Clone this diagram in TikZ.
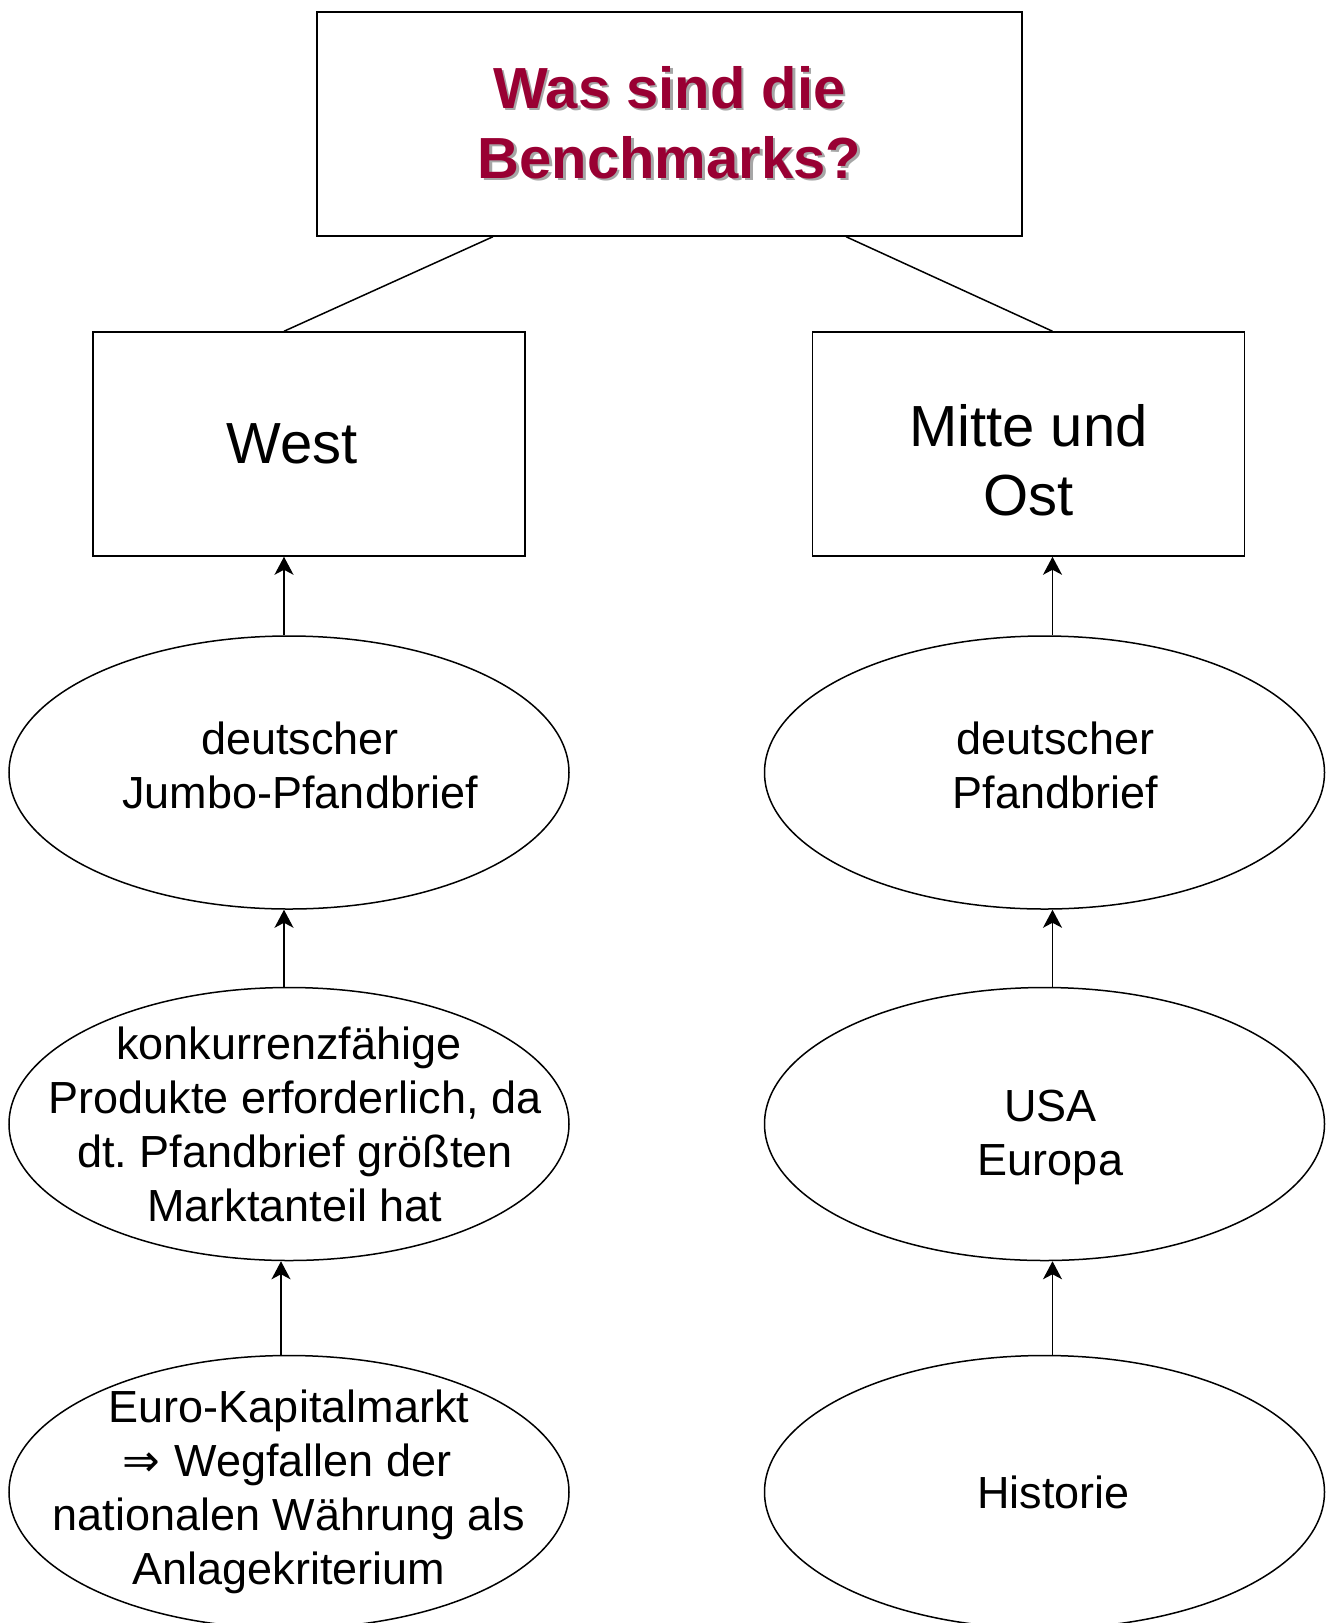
\documentclass[tikz,border=0pt]{standalone}
\usepackage{fontspec}
\setmainfont{Liberation Sans}
\newfontfamily\pfeilfont{DejaVu Sans}
\usetikzlibrary{shapes.geometric,arrows.meta,calc}
\definecolor{titelrot}{HTML}{990033}
\frenchspacing
\newcommand{\schatten}[1]{\rlap{\hspace{2.5pt}\raisebox{-2.5pt}{\color{black!35}#1}}#1}
\newcommand{\rueck}[1]{\rule{#1}{0pt}}
\tikzset{
  kasten/.style={draw, line width=1.5pt, inner sep=0pt, minimum width=432pt,
    minimum height=224pt, align=center, font=\fontsize{58}{69}\selectfont},
  titeltext/.style={text=titelrot, font=\bfseries\fontsize{58}{70}\selectfont},
  oval/.style={ellipse, draw, line width=1.5pt, inner xsep=-90pt, inner ysep=-40pt,
    minimum width=560pt, minimum height=273pt, align=center, font=\fontsize{45}{54}\selectfont},
  pfeil/.style={-{Stealth[length=18pt,width=19pt,inset=5pt]}, line width=1.5pt},
  linie/.style={line width=1.5pt},
}
\begin{document}
\begin{tikzpicture}[x=1pt,y=-1pt]
  \useasboundingbox (0,0) rectangle (1328,1623);
  % Titel
  \node[kasten, titeltext, minimum width=705pt] (titel) at (669.5,124)
    {\schatten{Was sind die}\\\schatten{Benchmarks?}};
  % zweite Ebene
  \node[kasten] (west) at (309,444) {West\rueck{34pt}};
  \node[kasten] (mitte) at (1028.5,444) {\rule{0pt}{74pt}Mitte und\\Ost};
  % linke Spalte
  \node[oval] (jumbo) at (289,772.5) {\rueck{22pt}deutscher\\\rueck{22pt}Jumbo-Pfandbrief\rule[-14pt]{0pt}{1pt}};
  \node[oval] (produkte) at (289,1124) {konkurrenzfähige\\\rueck{12pt}Produkte erforderlich, da\\\rueck{12pt}dt. Pfandbrief größten\\\rueck{12pt}Marktanteil hat};
  \node[oval] (euro) at (289,1492) {Euro-Kapitalmarkt\\{\pfeilfont ⇒}\hspace{14pt}Wegfallen der\rueck{4pt}\\nationalen Währung als\\Anlagekriterium};
  % rechte Spalte
  \node[oval] (pfandbrief) at (1044.5,772.5) {\rueck{22pt}deutscher\\\rueck{22pt}Pfandbrief\rule[-14pt]{0pt}{1pt}};
  \node[oval] (usa) at (1044.5,1124) {\rule{0pt}{58pt}\rueck{12pt}USA\\\rueck{12pt}Europa};
  \node[oval] (historie) at (1044.5,1492) {\rueck{18pt}Historie};
  % Pfeilfuesse
  \coordinate (l1) at ([xshift=-5pt]jumbo.north);
  \coordinate (l2) at ([xshift=-5pt]produkte.north);
  \coordinate (l3) at ([xshift=-8pt]euro.north);
  \coordinate (r1) at ([xshift=8pt]pfandbrief.north);
  \coordinate (r2) at ([xshift=8pt]usa.north);
  \coordinate (r3) at ([xshift=8pt]historie.north);
  % Verbindungen
  \draw[linie] ($(titel.south west)!0.25!(titel.south east)$) -- (l1 |- west.north);
  \draw[linie] ($(titel.south west)!0.75!(titel.south east)$) -- (r1 |- mitte.north);
  \draw[pfeil] (l1) -- (l1 |- west.south);
  \draw[pfeil] (l2) -- (l2 |- jumbo.south);
  \draw[pfeil] (l3) -- (l3 |- produkte.south);
  \draw[pfeil] (r1) -- (r1 |- mitte.south);
  \draw[pfeil] (r2) -- (r2 |- pfandbrief.south);
  \draw[pfeil] (r3) -- (r3 |- usa.south);
\end{tikzpicture}
\end{document}
